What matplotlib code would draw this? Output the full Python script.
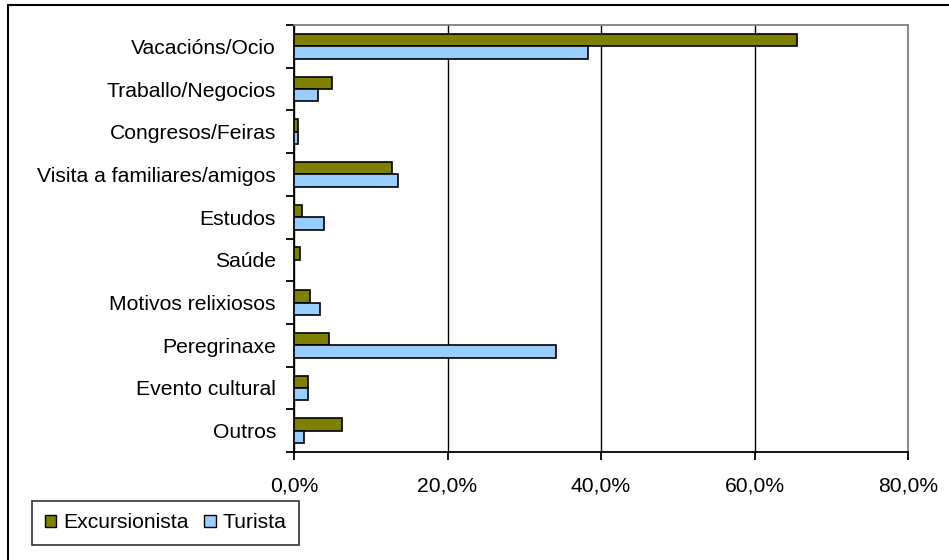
import matplotlib
matplotlib.use("Agg")
import matplotlib.pyplot as plt
from matplotlib.patches import Patch, Rectangle
from matplotlib.ticker import FuncFormatter
import numpy as np

categories = [
    "Vacacións/Ocio",
    "Traballo/Negocios",
    "Congresos/Feiras",
    "Visita a familiares/amigos",
    "Estudos",
    "Saúde",
    "Motivos relixiosos",
    "Peregrinaxe",
    "Evento cultural",
    "Outros",
]
# percentages
excursionista = [65.5, 4.9, 0.5, 12.8, 1.0, 0.8, 2.1, 4.5, 1.8, 6.3]
turista = [38.3, 3.1, 0.5, 13.6, 3.9, 0.0, 3.4, 34.2, 1.8, 1.3]
x_ticks = [0, 20, 40, 60, 80]

OLIVE = "#808000"
LIGHT_BLUE = "#99CCFF"

plt.rcParams["font.family"] = ["Liberation Sans", "DejaVu Sans"]
plt.rcParams["font.size"] = 15.2

fig = plt.figure(figsize=(9.49, 5.60), dpi=100)
ax = fig.add_axes([294 / 949, 1 - 452 / 560, (908 - 294) / 949, (452 - 25) / 560])

y = np.arange(len(categories))
h = 0.29


def edge_widths(values):
    # empty bars get no outline at all
    return [1.2 if v > 0 else 0.0 for v in values]


ax.barh(y - h / 2, excursionista, height=h, color=OLIVE, edgecolor="black",
        linewidth=edge_widths(excursionista), zorder=3)
ax.barh(y + h / 2, turista, height=h, color=LIGHT_BLUE, edgecolor="black",
        linewidth=edge_widths(turista), zorder=3)

ax.set_ylim(len(categories) - 0.5, -0.5)
ax.set_xlim(0, 80)

ax.set_yticks(y)
ax.set_yticklabels(categories)
ax.set_yticks(np.arange(len(categories) + 1) - 0.5, minor=True)
ax.tick_params(axis="y", which="major", length=0, pad=13)
ax.tick_params(axis="y", which="minor", length=6, width=1.3, color="black")

ax.set_xticks(x_ticks)
ax.xaxis.set_major_formatter(FuncFormatter(lambda v, p: f"{v:.1f}%".replace(".", ",")))
ax.tick_params(axis="x", length=6, width=1.3, color="black", pad=12)

ax.grid(axis="x", color="black", linewidth=1.0, zorder=0)
ax.set_axisbelow(True)

for side in ("left", "bottom"):
    ax.spines[side].set_color("black")
    ax.spines[side].set_linewidth(1.3)
for side in ("top", "right"):
    ax.spines[side].set_color("#808080")
    ax.spines[side].set_linewidth(1.3)

handles = [
    Patch(facecolor=OLIVE, edgecolor="black", linewidth=1.0, label="Excursionista"),
    Patch(facecolor=LIGHT_BLUE, edgecolor="black", linewidth=1.0, label="Turista"),
]
leg = fig.legend(handles=handles, ncol=2, loc="lower left",
                 bbox_to_anchor=(32 / 949, 1 - 545 / 560), frameon=True,
                 fancybox=False, edgecolor="black", handlelength=0.55,
                 handleheight=0.55, handletextpad=0.35, columnspacing=0.7,
                 borderpad=0.6, borderaxespad=0)
leg.get_frame().set_linewidth(1.2)

# outer chart frame, its right and bottom edges fall outside the canvas
fig.patches.append(Rectangle((8 / 949, -0.1), 1.2, 1.1 - 5 / 560,
                             transform=fig.transFigure, fill=False,
                             edgecolor="black", linewidth=1.5))

fig.savefig("out.png", dpi=100)
